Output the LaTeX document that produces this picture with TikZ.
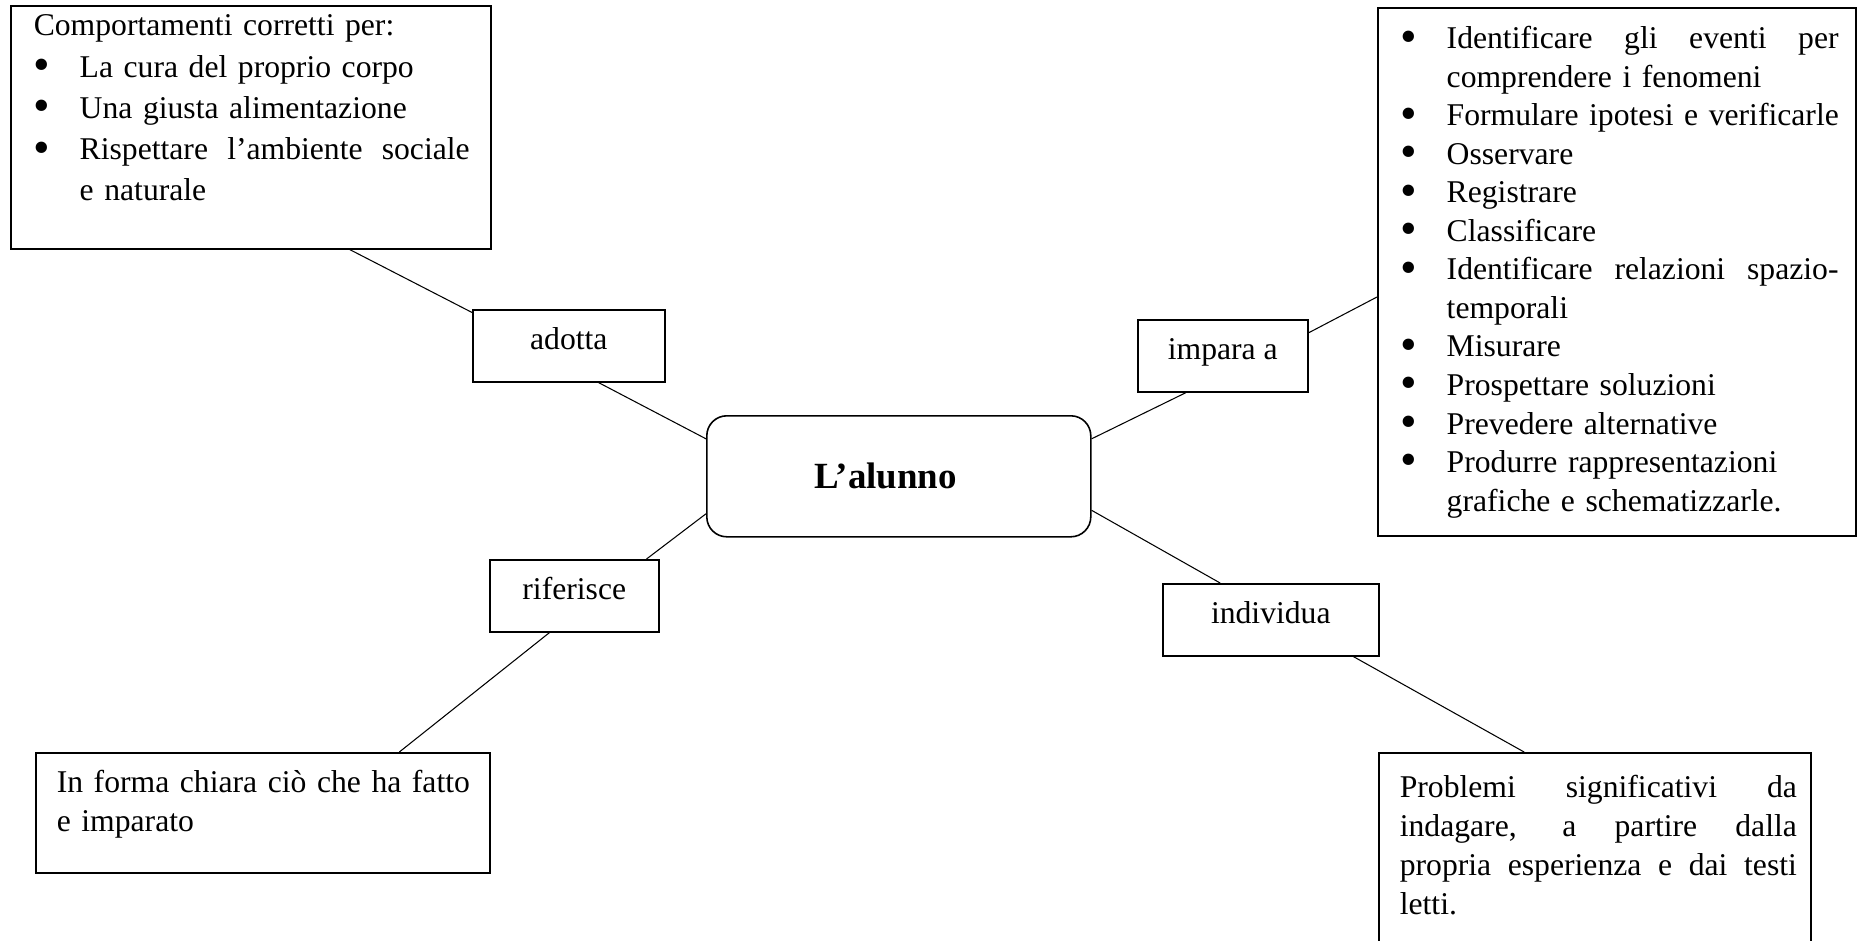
\documentclass[tikz,border=0pt]{standalone}
\usepackage{fontspec}
\setmainfont{Liberation Serif}

\newcommand{\bul}{\makebox[17.4pt][l]{\raisebox{-1.3pt}{\fontsize{18}{18}\selectfont\textbullet}}}
\newcommand{\itemgap}{\hspace*{17.4pt}}
\newcommand{\jline}[2]{\leavevmode\hbox to #1{\spaceskip=.25em plus 1fil\xspaceskip=.25em plus 1fil\relax #2}}

\tikzset{
  textbox/.style={draw,semithick,anchor=north west,inner sep=0pt,
    font=\fontsize{12}{14.6}\selectfont},
  verbbox/.style={draw,semithick,anchor=north west,inner sep=0pt,
    text height=15.16pt,text depth=12.13pt,font=\fontsize{12}{14}\selectfont},
  mainbox/.style={draw,semithick,rounded corners=7.58pt,anchor=north west,
    minimum width=145.54pt,minimum height=45.86pt,
    font=\fontsize{14}{16}\selectfont\bfseries}
}

\begin{document}
\begin{tikzpicture}[x=0.379pt,y=-0.379pt]
\useasboundingbox (0,0) rectangle (1857,940);

  \node (alunno) at (706,415) [mainbox] {L’alunno\kern10pt};

  \node (adotta) at (472,309) [verbbox,minimum width=72.77pt] {adotta};
  \node (impara) at (1137,319) [verbbox,minimum width=64.43pt] {impara a};
  \node (riferisce) at (489,559) [verbbox,minimum width=64.05pt] {riferisce};
  \node (individua) at (1162,583) [verbbox,minimum width=81.86pt] {individua};

  \node (tl) at (10,5) [textbox,text width=181.92pt,text height=11.37pt,
    text depth=80.73pt,font=\fontsize{12}{15.65}\selectfont] {\leftskip=8.72pt
    Comportamenti corretti per:\\
    \bul La cura del proprio corpo\\
    \bul Una giusta alimentazione\\
    \bul\jline{147.8pt}{Rispettare l’ambiente sociale}\\
    \itemgap e naturale\par};

  \node (rbox) at (1377,7) [textbox,text width=181.16pt,text height=15.54pt,
    text depth=184.57pt] {\leftskip=8.72pt
    \bul\jline{148.5pt}{Identificare gli eventi per}\\
    \itemgap comprendere i fenomeni\\
    \bul Formulare ipotesi e verificarle\\
    \bul Osservare\\
    \bul Registrare\\
    \bul Classificare\\
    \bul\jline{148.5pt}{Identificare relazioni spazio-}\\
    \itemgap temporali\\
    \bul Misurare\\
    \bul Prospettare soluzioni\\
    \bul Prevedere alternative\\
    \bul Produrre rappresentazioni\\
    \itemgap grafiche e schematizzarle.\par};

  \node (blbox) at (35,752) [textbox,text width=172.07pt,text height=15.16pt,
    text depth=30.32pt] {\leftskip=7.96pt
    In forma chiara ciò che ha fatto\\
    e imparato\par};

  \node (probl) at (1378,752) [textbox,text width=163.73pt,text height=17.06pt,
    text depth=56.09pt,font=\fontsize{12}{14.8}\selectfont] {\leftskip=7.96pt
    \jline{150.5pt}{Problemi significativi da}\\
    \jline{150.5pt}{indagare, a partire dalla}\\
    \jline{150.5pt}{propria esperienza e dai testi}\\
    letti.\par};

% connectors
\draw[thin]
   (tl.-51.7) -- (adotta.161.6)
   (adotta.-51.1) -- (alunno.169.2)
   (alunno.11.05) -- (impara.-135)
   (impara.15.8) -- (rbox.-174)
   (alunno.-169.2) -- (riferisce.27)
   (riferisce.-124.2) -- (blbox.24.6)
   (alunno.-10.8) -- (individua.144.8)
   (individua.-24.5) -- (probl.126.7);
\end{tikzpicture}
\end{document}
